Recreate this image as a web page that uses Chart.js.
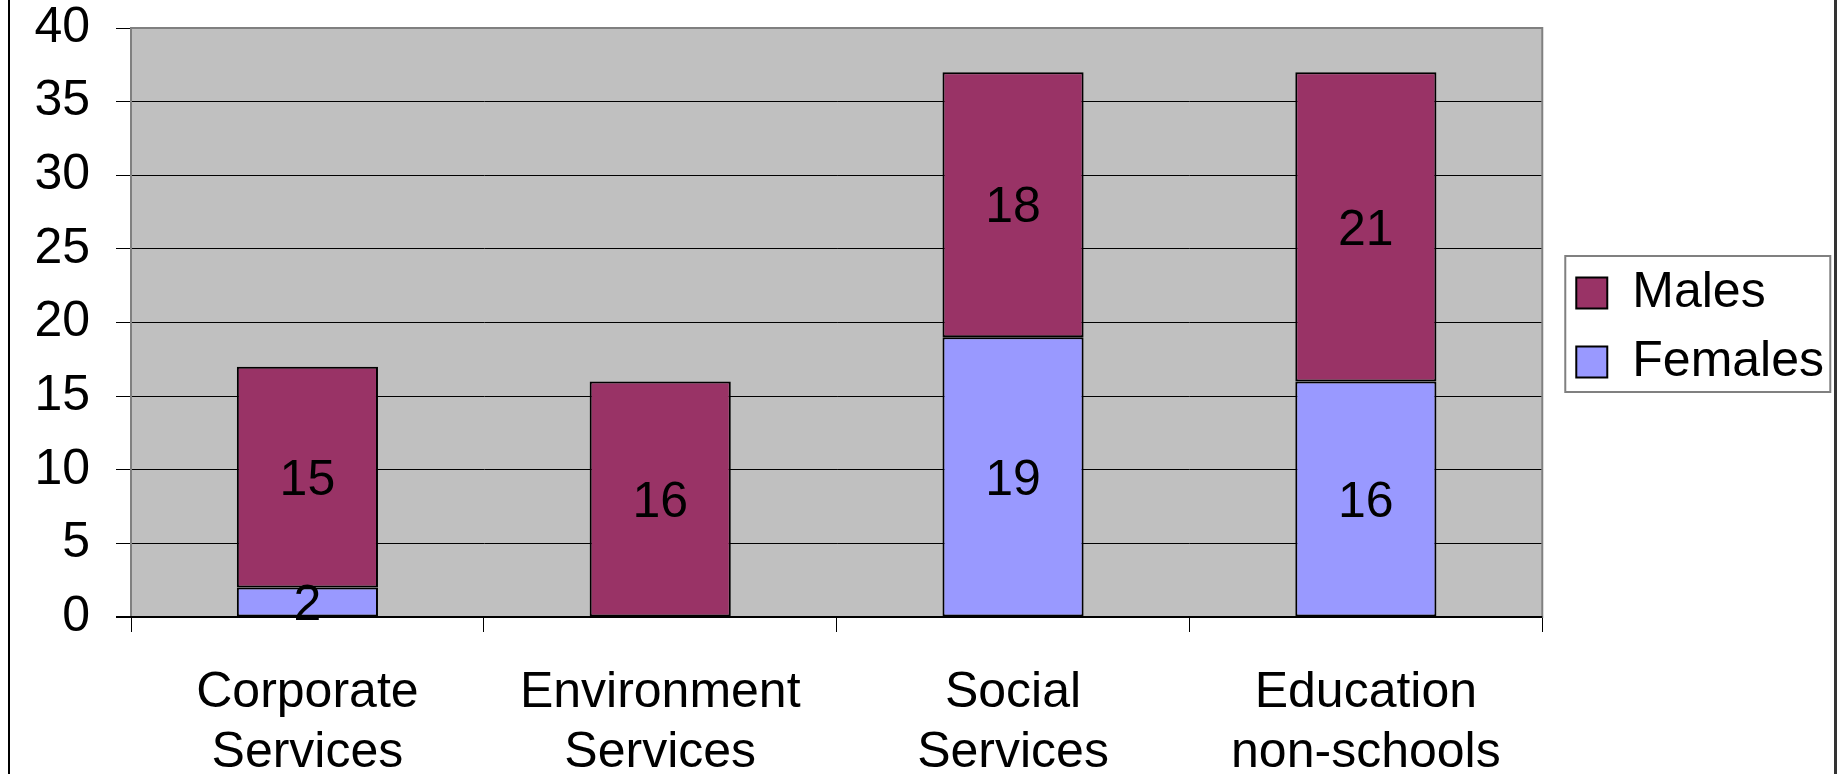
<!DOCTYPE html>
<html lang="en">
  <head>
    <meta charset="UTF-8" />
    <title>Staff by Department</title>
    <script src="https://cdn.jsdelivr.net/npm/chart.js"></script>
    <style>
      body {
        margin: 0;
        background: #fff;
      }
    </style>
  </head>
  <body>
    <canvas id="staffChart" width="1838" height="774"></canvas>

    <script>
      const departments = [
        ["Corporate", "Services"],
        ["Environment", "Services"],
        ["Social", "Services"],
        ["Education", "non-schools"],
      ];
      const females = [2, 0, 19, 16];
      const males = [15, 16, 18, 21];
      const yTicks = [0, 5, 10, 15, 20, 25, 30, 35, 40];

      const fontFamily = "'Liberation Sans', Arial, sans-serif";

      // grey plot background + frame, drawn under the bars
      const plotFrame = {
        id: "plotFrame",
        beforeDraw(chart) {
          const { ctx, chartArea: a } = chart;
          ctx.save();
          ctx.fillStyle = "#c0c0c0";
          ctx.fillRect(a.left, a.top, a.right - a.left, a.bottom - a.top);
          ctx.restore();
        },
        beforeDatasetsDraw(chart) {
          const { ctx, chartArea: a } = chart;
          ctx.save();
          ctx.strokeStyle = "#808080";
          ctx.lineWidth = 2;
          ctx.strokeRect(a.left, a.top, a.right - a.left, a.bottom - a.top);
          ctx.strokeStyle = "#000";
          ctx.beginPath();
          ctx.moveTo(a.left - 15, a.bottom);
          ctx.lineTo(a.right, a.bottom);
          ctx.stroke();
          ctx.restore();
        },
        afterDraw(chart) {
          const { ctx, width, height } = chart;
          ctx.save();
          ctx.strokeStyle = "#000";
          ctx.lineWidth = 2;
          ctx.beginPath();
          ctx.moveTo(9, 0);
          ctx.lineTo(9, height);
          ctx.stroke();
          ctx.strokeStyle = "#333";
          ctx.lineWidth = 3;
          ctx.beginPath();
          ctx.moveTo(width - 2.5, 0);
          ctx.lineTo(width - 2.5, height);
          ctx.stroke();
          ctx.restore();
        },
      };

      // values written in the middle of each segment
      const segmentLabels = {
        id: "segmentLabels",
        afterDatasetsDraw(chart) {
          const { ctx } = chart;
          ctx.save();
          ctx.font = "50px " + fontFamily;
          ctx.fillStyle = "#000";
          ctx.textAlign = "center";
          ctx.textBaseline = "middle";
          chart.data.datasets.forEach((ds, i) => {
            chart.getDatasetMeta(i).data.forEach((bar, j) => {
              if (!ds.data[j]) return;
              ctx.fillText(String(ds.data[j]), bar.x, (bar.y + bar.base) / 2 + 4);
            });
          });
          ctx.restore();
        },
      };

      // nudge the legend off the plot and draw its box
      const legendBox = {
        id: "legendBox",
        afterLayout(chart) {
          const lg = chart.legend;
          const a = chart.chartArea;
          lg.left += 15;
          lg.right += 15;
          lg.top = a.top + 10;
          lg.bottom = a.bottom;
        },
        afterDraw(chart) {
          const lg = chart.legend;
          const { ctx } = chart;
          ctx.save();
          ctx.strokeStyle = "#808080";
          ctx.lineWidth = 2;
          ctx.strokeRect(lg.left + 8, 256, 265, 136);
          ctx.restore();
        },
      };

      new Chart(document.getElementById("staffChart"), {
        type: "bar",
        data: {
          labels: departments,
          datasets: [
            {
              label: "Females",
              data: females,
              backgroundColor: "#9999ff",
              borderColor: "#000",
              borderWidth: 2,
              borderSkipped: false,
            },
            {
              label: "Males",
              data: males,
              backgroundColor: "#993366",
              borderColor: "#000",
              borderWidth: 2,
              borderSkipped: false,
            },
          ],
        },
        options: {
          responsive: false,
          animation: false,
          layout: {
            padding: { left: 0, right: 19, top: 28, bottom: 0 },
          },
          datasets: {
            bar: { barPercentage: 0.4, categoryPercentage: 1.0 },
          },
          plugins: {
            tooltip: { enabled: false },
            legend: {
              position: "right",
              reverse: true,
              labels: {
                color: "#000",
                boxWidth: 31,
                boxHeight: 31,
                padding: 19,
                font: { family: fontFamily, size: 50 },
              },
            },
          },
          scales: {
            x: {
              stacked: true,
              grid: {
                offset: true,
                drawOnChartArea: false,
                drawTicks: true,
                tickLength: 15,
                color: "#000",
              },
              border: { display: true, color: "#000", width: 2 },
              ticks: {
                color: "#000",
                padding: 31,
                maxRotation: 0,
                font: { family: fontFamily, size: 50, lineHeight: 60 / 50 },
              },
              afterFit(scale) {
                scale.height = 157;
              },
            },
            y: {
              stacked: true,
              min: yTicks[0],
              max: yTicks[yTicks.length - 1],
              afterBuildTicks(scale) {
                scale.ticks = yTicks.map((v) => ({ value: v }));
              },
              grid: {
                color: (c) => (c.tick && c.tick.value === 40 ? "#808080" : "#000"),
                lineWidth: 1,
                tickLength: 15,
                tickColor: "#000",
              },
              border: { display: true, color: "#808080", width: 2 },
              ticks: {
                color: "#000",
                padding: 26,
                // single-line labels: a tiny line height keeps the plot top from being pushed down
                font: { family: fontFamily, size: 50, lineHeight: 0.05 },
              },
              afterFit(scale) {
                scale.width = 131;
              },
            },
          },
        },
        plugins: [plotFrame, segmentLabels, legendBox],
      });
    </script>
  </body>
</html>
